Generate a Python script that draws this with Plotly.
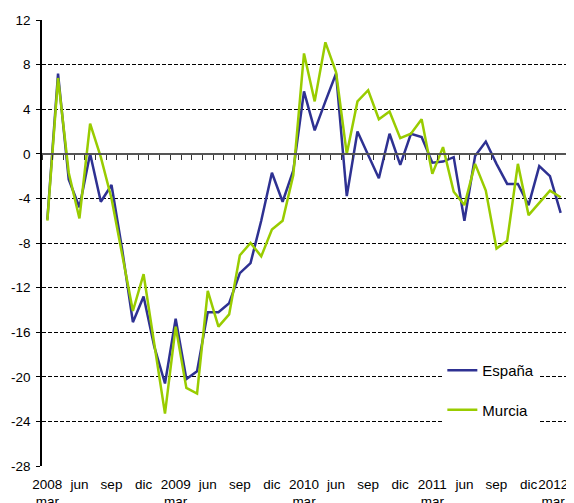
import plotly.graph_objects as go

# Monthly categories, March 2008 .. March 2012
years = [2008, 2009, 2010, 2011, 2012]
month_names = ["ene", "feb", "mar", "abr", "may", "jun", "jul", "ago", "sep", "oct", "nov", "dic"]
categories = []
for y in years:
    for m in month_names:
        categories.append(f"{m} {y}")
categories = categories[2:2 + 49]

espana = [-5.9, 7.2, -2.3, -4.8, 0.0, -4.3, -2.8, -8.6, -15.1, -12.8, -17.3, -20.6, -14.8,
          -20.2, -19.5, -14.2, -14.2, -13.4, -10.7, -9.8, -6.0, -1.7, -4.3, -1.5, 5.6,
          2.1, 4.7, 7.2, -3.8, 2.0, -0.1, -2.2, 1.8, -1.0, 1.8, 1.5, -0.8, -0.7, -0.3,
          -6.0, -0.2, 1.1, -0.9, -2.7, -2.7, -4.6, -1.1, -2.0, -5.3]
murcia = [-6.0, 6.8, -1.7, -5.8, 2.7, -0.3, -4.0, -9.0, -14.1, -10.8, -17.0, -23.3, -15.5,
          -21.0, -21.5, -12.3, -15.5, -14.4, -9.1, -8.0, -9.2, -6.8, -6.0, -1.9, 9.0,
          4.7, 10.0, 7.3, 0.0, 4.7, 5.7, 3.1, 3.8, 1.4, 1.8, 3.1, -1.8, 0.6, -3.4,
          -4.6, -0.9, -3.3, -8.5, -7.8, -0.9, -5.5, -4.4, -3.3, -3.9]

tick_positions = categories[::3]
pad = "\u00a0" * 4
tick_labels = ["2008<br>mar", "jun", "sep", "dic", "2009<br>mar", "jun", "sep", "dic",
               "2010<br>mar", "jun", "sep", "dic", "2011<br>mar", "jun", "sep", "dic",
               "2012" + pad + "<br>mar" + pad]

y_ticks = [12, 8, 4, 0, -4, -8, -12, -16, -20, -24, -28]

FONT = "Liberation Sans, Arial, sans-serif"

fig = go.Figure()
fig.add_trace(go.Scatter(x=categories, y=espana, mode="lines", name="España",
                         line=dict(color="#2E3192", width=2.5), legendgroup="a"))
fig.add_trace(go.Scatter(x=categories, y=murcia, mode="lines", name="Murcia",
                         line=dict(color="#99CC00", width=2.5), legendgroup="b"))
# helper trace so the zero-line tick axis is drawn
fig.add_trace(go.Scatter(x=[None], y=[None], xaxis="x2", showlegend=False,
                         hoverinfo="skip"))

# the page body adds an 8px offset; plot area kept at the reference position
fig.update_layout(
    width=574, height=503,
    margin=dict(l=34, r=16, t=12, b=45, autoexpand=False),
    paper_bgcolor="white", plot_bgcolor="white",
    font=dict(family=FONT, size=13.5, color="#000000"),
    showlegend=True,
    legend=dict(x=0.764, y=0.251, xanchor="left", yanchor="top",
                bgcolor="white", font=dict(size=15, family=FONT),
                tracegroupgap=17, traceorder="grouped"),
    xaxis=dict(type="category", categoryorder="array", categoryarray=categories,
               range=[-0.5, len(categories) - 0.5], automargin=False,
               tickmode="array", tickvals=tick_positions, ticktext=tick_labels,
               tickangle=0,
               ticks="", showgrid=False, showline=False, zeroline=False,
               ticklabelstandoff=8,
               tickfont=dict(size=13.5, family=FONT)),
    xaxis2=dict(overlaying="x", anchor="free", position=28 / 40, side="bottom",
                range=[-0.5, len(categories) - 0.5], tickmode="linear", tick0=-0.5,
                dtick=1, ticks="outside", ticklen=5, tickwidth=1, tickcolor="#333333",
                showticklabels=False, showline=True, linecolor="#555555", linewidth=2,
                showgrid=False, zeroline=False, automargin=False),
    yaxis=dict(range=[-28, 12], tickmode="array", tickvals=y_ticks,
               ticktext=[str(v) for v in y_ticks], automargin=False,
               showline=True, linecolor="#000000", linewidth=1.5,
               ticks="outside", ticklen=4, tickcolor="#000000",
               showgrid=True, gridcolor="#000000", gridwidth=1, griddash="4px,2px",
               zeroline=False, ticklabelstandoff=3,
               tickfont=dict(size=13.5, family=FONT)),
)

fig.write_html("out.html")
